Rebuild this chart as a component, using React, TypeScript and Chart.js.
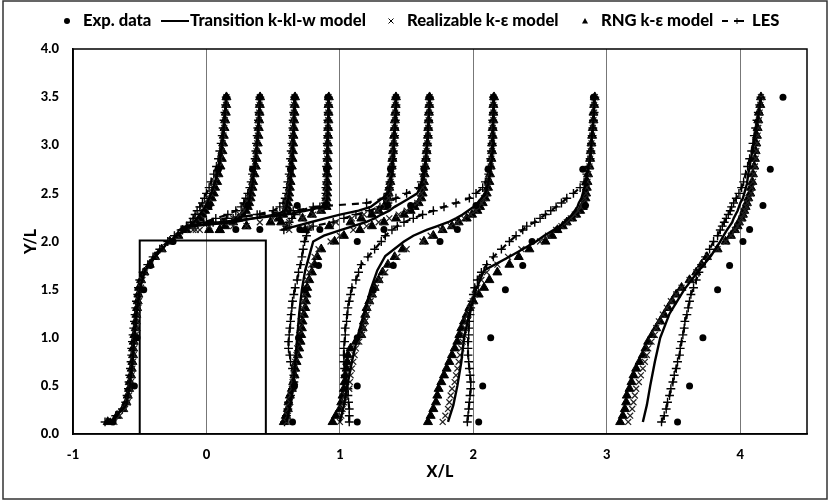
import { useEffect, useRef } from "react"
import { Chart, registerables, type Plugin } from "chart.js"

Chart.register(...registerables)

const FONT = "Lato, 'Noto Sans', sans-serif"

// y levels the profiles were read at
const lowerLevels = [0.125, 0.19, 0.26, 0.33, 0.4, 0.47, 0.54, 0.61, 0.68, 0.75, 0.82, 0.89, 0.96, 1.03, 1.1, 1.17, 1.24, 1.31, 1.38, 1.45, 1.52, 1.6, 1.68, 1.76, 1.84, 1.92, 2.0]
const upperLevels = [2.06, 2.12, 2.16, 2.2, 2.24, 2.28, 2.32, 2.36, 2.4, 2.45, 2.5, 2.56, 2.62, 2.7, 2.78, 2.86, 2.94, 3.02, 3.1, 3.18, 3.26, 3.34, 3.42, 3.5]
const wakeLevels = [...lowerLevels, ...upperLevels]
const roofLevels = upperLevels.slice(1)
const lineLevels = [0.125, 0.3, 0.5, 0.75, 1, 1.25, 1.5, 1.7, 1.85, 2, 2.06, 2.12, 2.16, 2.2, 2.24, 2.28, 2.32, 2.36, 2.4, 2.45, 2.5, 2.6, 2.7, 2.86, 3.02, 3.26, 3.5]
const roofLineLevels = lineLevels.slice(11)
const expLevels = [0.125, 0.5, 1, 1.5, 1.75, 2, 2.125, 2.375, 2.75, 3.5]
const expRoofLevels = [2.125, 2.375, 2.75, 3.5]

// building outline
const buildingX = [-0.5, -0.5, 0.445, 0.445]
const buildingY = [0, 2.01, 2.01, 0]

// Exp. data
const expA = [-0.7, -0.54, -0.52, -0.47, -0.42, -0.25, -0.17, 0.02, 0.09, 0.148]
const expB = [0.22, 0.31, 0.345, 0.4]
const expC = [0.4, 0.68, 0.63, 0.66]
const expD = [0.7, 0.89, 0.9, 0.91]
const expE = [0.85, 1.36, 1.38, 1.42]
const expF = [0.645, 0.66, 0.69, 0.74, 0.84, 1.13, 1.33, 1.53, 1.63, 1.67]
const expG = [1.13, 1.13, 1.13, 1.25, 1.4, 1.75, 1.88, 2.02, 2.11, 2.15]
const expH = [2.04, 2.07, 2.13, 2.24, 2.37, 2.44, 2.63, 2.84, 2.82, 2.9]
const expI = [3.53, 3.62, 3.72, 3.83, 3.92, 4.02, 4.07, 4.17, 4.225, 4.32]

// Transition k-kl-w
const transitionA = [-0.72, -0.6, -0.575, -0.555, -0.54, -0.525, -0.5, -0.46, -0.38, -0.28, -0.225, -0.165, -0.125, -0.095, -0.07, -0.05, -0.03, -0.01, 0.005, 0.02, 0.035, 0.06, 0.08, 0.1, 0.118, 0.135, 0.148]
const transitionB = [-0.2, -0.12, 0.17, 0.25, 0.28, 0.3, 0.31, 0.315, 0.325, 0.33, 0.345, 0.355, 0.37, 0.38, 0.393, 0.402]
const transitionC = [-0.2, -0.12, 0.2, 0.35, 0.52, 0.59, 0.6, 0.605, 0.615, 0.62, 0.63, 0.635, 0.645, 0.652, 0.658, 0.664]
const transitionD = [-0.2, -0.13, 0.1, 0.35, 0.6, 0.75, 0.87, 0.9, 0.905, 0.905, 0.905, 0.905, 0.908, 0.91, 0.913, 0.915]
const transitionE = [0.56, 0.67, 0.78, 0.89, 1.0, 1.14, 1.23, 1.27, 1.32, 1.36, 1.38, 1.39, 1.4, 1.405, 1.415, 1.42]
const transitionF = [0.6, 0.63, 0.65, 0.665, 0.68, 0.695, 0.715, 0.74, 0.77, 0.8, 0.88, 1.01, 1.1, 1.19, 1.26, 1.31, 1.37, 1.41, 1.46, 1.52, 1.58, 1.61, 1.63, 1.645, 1.655, 1.665, 1.675]
const transitionG = [1.0, 1.03, 1.055, 1.09, 1.13, 1.18, 1.23, 1.28, 1.34, 1.48, 1.55, 1.65, 1.73, 1.81, 1.87, 1.92, 1.96, 2.0, 2.03, 2.06, 2.09, 2.11, 2.125, 2.14, 2.15, 2.15, 2.155]
const transitionH = [1.81, 1.85, 1.88, 1.91, 1.93, 1.97, 2.02, 2.08, 2.28, 2.47, 2.53, 2.6, 2.65, 2.68, 2.71, 2.74, 2.76, 2.78, 2.79, 2.81, 2.82, 2.84, 2.85, 2.875, 2.885, 2.9, 2.91]
const transitionI = [3.27, 3.3, 3.325, 3.36, 3.4, 3.47, 3.58, 3.69, 3.78, 3.85, 3.875, 3.9, 3.92, 3.94, 3.95, 3.965, 3.98, 3.99, 4.0, 4.02, 4.03, 4.05, 4.06, 4.08, 4.1, 4.13, 4.155]

// Realizable k-e
const realizableA = [-0.69, -0.65, -0.61, -0.59, -0.58, -0.57, -0.565, -0.56, -0.555, -0.55, -0.545, -0.54, -0.535, -0.53, -0.525, -0.52, -0.515, -0.51, -0.505, -0.5, -0.49, -0.48, -0.46, -0.42, -0.38, -0.33, -0.27, -0.22, -0.16, -0.12, -0.09, -0.07, -0.05, -0.03, -0.01, 0.005, 0.02, 0.035, 0.05, 0.065, 0.08, 0.095, 0.105, 0.115, 0.122, 0.128, 0.133, 0.138, 0.142, 0.146, 0.15]
const realizableB = [-0.1, 0.02, 0.13, 0.2, 0.25, 0.285, 0.305, 0.315, 0.325, 0.33, 0.34, 0.345, 0.355, 0.365, 0.37, 0.375, 0.38, 0.385, 0.39, 0.392, 0.395, 0.398, 0.4]
const realizableC = [-0.08, 0.2, 0.4, 0.5, 0.55, 0.585, 0.595, 0.6, 0.61, 0.615, 0.62, 0.625, 0.63, 0.635, 0.64, 0.643, 0.645, 0.648, 0.65, 0.652, 0.655, 0.657, 0.66]
const realizableD = [-0.05, 0.3, 0.62, 0.72, 0.8, 0.85, 0.89, 0.895, 0.9, 0.9, 0.9, 0.902, 0.903, 0.905, 0.905, 0.906, 0.908, 0.91, 0.91, 0.912, 0.913, 0.915, 0.915]
const realizableE = [0.62, 0.78, 0.97, 1.09, 1.18, 1.28, 1.34, 1.355, 1.365, 1.37, 1.375, 1.38, 1.385, 1.39, 1.395, 1.4, 1.405, 1.408, 1.41, 1.413, 1.415, 1.418, 1.42]
const realizableF = [0.6, 0.61, 0.615, 0.625, 0.63, 0.64, 0.645, 0.655, 0.66, 0.665, 0.675, 0.68, 0.69, 0.695, 0.7, 0.705, 0.715, 0.72, 0.73, 0.735, 0.745, 0.755, 0.77, 0.785, 0.81, 0.84, 0.93, 1.0, 1.1, 1.2, 1.29, 1.37, 1.44, 1.5, 1.54, 1.58, 1.6, 1.61, 1.62, 1.628, 1.635, 1.64, 1.645, 1.65, 1.655, 1.66, 1.662, 1.665, 1.668, 1.67, 1.672]
const realizableG = [1.0, 1.01, 1.02, 1.03, 1.04, 1.07, 1.075, 1.08, 1.09, 1.1, 1.11, 1.12, 1.145, 1.165, 1.18, 1.19, 1.2, 1.21, 1.23, 1.25, 1.27, 1.3, 1.34, 1.38, 1.43, 1.5, 1.62, 1.68, 1.76, 1.83, 1.88, 1.93, 1.98, 2.02, 2.04, 2.06, 2.08, 2.095, 2.105, 2.115, 2.12, 2.13, 2.135, 2.14, 2.14, 2.145, 2.145, 2.15, 2.15, 2.15, 2.15]
const realizableH = [1.77, 1.79, 1.81, 1.82, 1.83, 1.84, 1.86, 1.87, 1.88, 1.89, 1.9, 1.91, 1.92, 1.93, 1.94, 1.95, 1.96, 1.975, 1.995, 2.01, 2.03, 2.06, 2.1, 2.18, 2.26, 2.36, 2.5, 2.56, 2.62, 2.66, 2.7, 2.73, 2.76, 2.785, 2.805, 2.82, 2.835, 2.845, 2.85, 2.855, 2.86, 2.87, 2.875, 2.88, 2.885, 2.89, 2.895, 2.9, 2.905, 2.905, 2.91]
const realizableI = [3.16, 3.175, 3.19, 3.2, 3.21, 3.22, 3.24, 3.255, 3.27, 3.285, 3.3, 3.31, 3.335, 3.36, 3.37, 3.39, 3.42, 3.45, 3.48, 3.52, 3.56, 3.62, 3.67, 3.72, 3.76, 3.83, 3.89, 3.93, 3.96, 3.98, 4.0, 4.01, 4.025, 4.035, 4.045, 4.055, 4.065, 4.08, 4.085, 4.095, 4.1, 4.11, 4.115, 4.12, 4.125, 4.13, 4.135, 4.14, 4.145, 4.15, 4.155]

// RNG k-e
const rngA = [-0.74, -0.67, -0.625, -0.6, -0.59, -0.58, -0.575, -0.565, -0.56, -0.555, -0.55, -0.55, -0.545, -0.54, -0.53, -0.53, -0.525, -0.52, -0.515, -0.51, -0.505, -0.49, -0.465, -0.425, -0.385, -0.335, -0.275, -0.21, -0.15, -0.11, -0.075, -0.05, -0.03, -0.01, 0.01, 0.025, 0.04, 0.055, 0.065, 0.08, 0.09, 0.105, 0.115, 0.12, 0.125, 0.13, 0.135, 0.14, 0.145, 0.148, 0.15]
const rngB = [0.02, 0.14, 0.2, 0.24, 0.27, 0.295, 0.31, 0.32, 0.33, 0.335, 0.345, 0.35, 0.36, 0.37, 0.375, 0.38, 0.385, 0.39, 0.392, 0.395, 0.398, 0.4, 0.402]
const rngC = [0.1, 0.3, 0.48, 0.54, 0.575, 0.6, 0.605, 0.61, 0.615, 0.62, 0.625, 0.63, 0.635, 0.64, 0.645, 0.648, 0.65, 0.652, 0.655, 0.657, 0.66, 0.662, 0.664]
const rngD = [0.1, 0.3, 0.56, 0.72, 0.79, 0.86, 0.9, 0.9, 0.9, 0.905, 0.905, 0.905, 0.905, 0.908, 0.908, 0.91, 0.91, 0.912, 0.912, 0.914, 0.915, 0.915, 0.917]
const rngE = [0.74, 0.92, 1.08, 1.16, 1.24, 1.29, 1.33, 1.35, 1.36, 1.365, 1.37, 1.378, 1.383, 1.388, 1.393, 1.398, 1.403, 1.406, 1.41, 1.412, 1.415, 1.418, 1.42]
const rngF = [0.58, 0.595, 0.61, 0.615, 0.625, 0.64, 0.65, 0.66, 0.665, 0.675, 0.685, 0.695, 0.705, 0.71, 0.715, 0.72, 0.73, 0.74, 0.745, 0.75, 0.755, 0.77, 0.79, 0.81, 0.83, 0.86, 0.96, 1.03, 1.15, 1.24, 1.33, 1.42, 1.48, 1.53, 1.56, 1.59, 1.61, 1.62, 1.625, 1.63, 1.635, 1.64, 1.645, 1.65, 1.655, 1.66, 1.662, 1.665, 1.667, 1.67, 1.672]
const rngG = [0.945, 0.97, 1.0, 1.01, 1.02, 1.03, 1.035, 1.04, 1.05, 1.055, 1.06, 1.08, 1.12, 1.16, 1.17, 1.18, 1.19, 1.2, 1.22, 1.24, 1.26, 1.29, 1.32, 1.36, 1.41, 1.47, 1.63, 1.7, 1.77, 1.84, 1.89, 1.95, 1.99, 2.03, 2.05, 2.07, 2.09, 2.1, 2.11, 2.12, 2.125, 2.13, 2.135, 2.14, 2.14, 2.145, 2.145, 2.15, 2.15, 2.15, 2.155]
const rngH = [1.66, 1.68, 1.7, 1.72, 1.73, 1.74, 1.76, 1.78, 1.8, 1.82, 1.84, 1.86, 1.88, 1.895, 1.91, 1.93, 1.95, 1.97, 2.0, 2.04, 2.08, 2.12, 2.18, 2.27, 2.34, 2.42, 2.54, 2.59, 2.63, 2.67, 2.7, 2.74, 2.77, 2.8, 2.82, 2.83, 2.84, 2.845, 2.85, 2.855, 2.86, 2.87, 2.875, 2.88, 2.885, 2.89, 2.895, 2.9, 2.9, 2.905, 2.91]
const rngI = [3.1, 3.12, 3.135, 3.145, 3.15, 3.17, 3.185, 3.2, 3.22, 3.245, 3.27, 3.29, 3.31, 3.34, 3.37, 3.4, 3.43, 3.46, 3.49, 3.52, 3.56, 3.62, 3.67, 3.71, 3.75, 3.83, 3.89, 3.93, 3.96, 3.98, 3.99, 4.01, 4.02, 4.03, 4.04, 4.05, 4.06, 4.075, 4.08, 4.09, 4.095, 4.105, 4.11, 4.115, 4.12, 4.125, 4.13, 4.135, 4.14, 4.15, 4.155]

// LES
const lesA = [-0.76, -0.68, -0.63, -0.605, -0.595, -0.585, -0.58, -0.575, -0.57, -0.565, -0.56, -0.56, -0.555, -0.55, -0.545, -0.54, -0.535, -0.53, -0.525, -0.515, -0.51, -0.5, -0.475, -0.44, -0.4, -0.35, -0.29, -0.24, -0.19, -0.15, -0.12, -0.1, -0.085, -0.07, -0.05, -0.03, -0.015, 0, 0.02, 0.035, 0.055, 0.075, 0.09, 0.1, 0.11, 0.118, 0.125, 0.132, 0.138, 0.143, 0.148]
const lesB = [-0.18, -0.1, -0.02, 0.07, 0.16, 0.22, 0.26, 0.28, 0.295, 0.31, 0.325, 0.335, 0.345, 0.355, 0.365, 0.37, 0.375, 0.38, 0.385, 0.39, 0.394, 0.397, 0.4]
const lesC = [-0.18, -0.1, 0.05, 0.2, 0.38, 0.5, 0.55, 0.575, 0.59, 0.6, 0.605, 0.61, 0.62, 0.625, 0.63, 0.635, 0.64, 0.645, 0.648, 0.65, 0.653, 0.656, 0.66]
const lesD = [-0.18, -0.1, 0.0, 0.15, 0.4, 0.65, 0.85, 0.89, 0.895, 0.895, 0.895, 0.9, 0.9, 0.9, 0.903, 0.905, 0.905, 0.908, 0.91, 0.91, 0.912, 0.914, 0.915]
const lesE = [0.58, 0.6, 0.62, 0.64, 0.66, 0.7, 0.8, 1.2, 1.33, 1.36, 1.37, 1.375, 1.385, 1.39, 1.395, 1.4, 1.405, 1.41, 1.41, 1.415, 1.418, 1.42, 1.42]
const lesF = [0.585, 0.6, 0.61, 0.615, 0.63, 0.645, 0.655, 0.655, 0.645, 0.63, 0.625, 0.615, 0.615, 0.62, 0.625, 0.63, 0.635, 0.64, 0.645, 0.655, 0.665, 0.68, 0.69, 0.705, 0.715, 0.725, 0.735, 0.75, 0.76, 0.8, 0.95, 1.03, 1.12, 1.22, 1.3, 1.36, 1.42, 1.5, 1.59, 1.61, 1.625, 1.635, 1.645, 1.65, 1.655, 1.66, 1.662, 1.665, 1.668, 1.67, 1.672]
const lesG = [1.07, 1.07, 1.07, 1.065, 1.06, 1.06, 1.05, 1.04, 1.035, 1.03, 1.03, 1.03, 1.035, 1.04, 1.04, 1.05, 1.055, 1.06, 1.07, 1.08, 1.09, 1.12, 1.14, 1.16, 1.21, 1.26, 1.31, 1.34, 1.39, 1.43, 1.48, 1.55, 1.62, 1.7, 1.78, 1.87, 1.97, 2.02, 2.07, 2.09, 2.115, 2.125, 2.13, 2.135, 2.14, 2.14, 2.145, 2.145, 2.15, 2.15, 2.15]
const lesH = [1.955, 1.96, 1.965, 1.97, 1.975, 1.98, 1.98, 1.975, 1.97, 1.965, 1.96, 1.96, 1.96, 1.965, 1.965, 1.97, 1.975, 1.98, 1.99, 2.0, 2.01, 2.03, 2.06, 2.1, 2.15, 2.21, 2.27, 2.32, 2.37, 2.4, 2.46, 2.5, 2.54, 2.58, 2.62, 2.66, 2.7, 2.75, 2.8, 2.83, 2.85, 2.865, 2.875, 2.88, 2.885, 2.89, 2.895, 2.9, 2.905, 2.905, 2.91]
const lesI = [3.41, 3.43, 3.445, 3.455, 3.47, 3.48, 3.495, 3.505, 3.52, 3.53, 3.545, 3.55, 3.56, 3.57, 3.58, 3.585, 3.6, 3.61, 3.62, 3.63, 3.65, 3.67, 3.69, 3.71, 3.74, 3.77, 3.8, 3.83, 3.85, 3.865, 3.88, 3.895, 3.91, 3.925, 3.935, 3.95, 3.97, 3.99, 4.01, 4.025, 4.04, 4.055, 4.07, 4.085, 4.095, 4.105, 4.115, 4.125, 4.135, 4.145, 4.155]

const toPoints = (xs: number[], ys: number[]) => xs.map((x, i) => ({ x, y: ys[i] }))

const markerStyle = (pointStyle: string, radius: number, width: number, color = "#000") => ({
  showLine: false,
  pointStyle,
  pointRadius: radius,
  pointBackgroundColor: color,
  pointBorderColor: color,
  pointBorderWidth: width,
})

const buildDatasets = () => {
  const sets: any[] = []
  const wake = (list: number[][], style: any) =>
    list.forEach((xs) => sets.push({ data: toPoints(xs, wakeLevels), ...style }))
  const roof = (list: number[][], style: any) =>
    list.forEach((xs) => sets.push({ data: toPoints(xs, roofLevels), ...style }))

  const exp = markerStyle("circle", 3.5, 0)
  ;[expA, expF, expG, expH, expI].forEach((xs) => sets.push({ data: toPoints(xs, expLevels), ...exp }))
  ;[expB, expC, expD, expE].forEach((xs) => sets.push({ data: toPoints(xs, expRoofLevels), ...exp }))

  const solid = { showLine: true, borderColor: "#000", borderWidth: 2.4, pointRadius: 0 }
  ;[transitionA, transitionF, transitionG, transitionH, transitionI].forEach((xs) =>
    sets.push({ data: toPoints(xs, lineLevels), ...solid })
  )
  ;[transitionB, transitionC, transitionD, transitionE].forEach((xs) =>
    sets.push({ data: toPoints(xs, roofLineLevels), ...solid })
  )

  const cross = markerStyle("crossRot", 4.2, 1.2, "#222")
  wake([realizableA, realizableF, realizableG, realizableH, realizableI], cross)
  roof([realizableB, realizableC, realizableD, realizableE], cross)

  const tri = markerStyle("triangle", 5.2, 1)
  wake([rngA, rngF, rngG, rngH, rngI], tri)
  roof([rngB, rngC, rngD, rngE], tri)

  const les = {
    ...markerStyle("cross", 4.4, 1.4),
    showLine: true,
    borderColor: "#000",
    borderWidth: 2.2,
    borderDash: [7, 6],
  }
  wake([lesA, lesF, lesG, lesH, lesI], les)
  roof([lesB, lesC, lesD, lesE], les)

  sets.push({ data: toPoints(buildingX, buildingY), showLine: true, borderColor: "#000", borderWidth: 2, pointRadius: 0 })
  return sets
}

// legend is spaced unevenly in the original, so it is drawn by hand
const legendEntries = [
  { label: "Exp. data", mark: "circle", markAt: 67, textAt: 83 },
  { label: "Transition k-kl-w model", mark: "line", markAt: 175, textAt: 190 },
  { label: "Realizable k-\u03b5 model", mark: "cross", markAt: 391, textAt: 407 },
  { label: "RNG k-\u03b5 model", mark: "triangle", markAt: 585, textAt: 601 },
  { label: "LES", mark: "les", markAt: 733, textAt: 752 },
]

const framePlugin: Plugin = {
  id: "frame",
  afterDraw(chart) {
    const { ctx, chartArea: a } = chart
    ctx.save()
    ctx.strokeStyle = "#000"
    ctx.lineWidth = 1.5
    ctx.strokeRect(a.left, a.top, a.right - a.left, a.bottom - a.top)
    ctx.strokeStyle = "#333"
    ctx.lineWidth = 1.5
    ctx.strokeRect(3, 1, 824, 498)

    const y = 21
    ctx.fillStyle = "#000"
    ctx.strokeStyle = "#000"
    ctx.font = `900 16.6px ${FONT}`
    ctx.textBaseline = "middle"
    legendEntries.forEach((e) => {
      ctx.fillText(e.label, e.textAt, y)
      const m = e.markAt
      if (e.mark === "circle") {
        ctx.beginPath()
        ctx.arc(m, y, 3, 0, Math.PI * 2)
        ctx.fill()
      } else if (e.mark === "line") {
        ctx.lineWidth = 2
        ctx.beginPath()
        ctx.moveTo(m - 14, y)
        ctx.lineTo(m + 14, y)
        ctx.stroke()
      } else if (e.mark === "cross") {
        ctx.lineWidth = 1
        ctx.beginPath()
        ctx.moveTo(m - 2.5, y - 2.5)
        ctx.lineTo(m + 2.5, y + 2.5)
        ctx.moveTo(m + 2.5, y - 2.5)
        ctx.lineTo(m - 2.5, y + 2.5)
        ctx.stroke()
      } else if (e.mark === "triangle") {
        ctx.beginPath()
        ctx.moveTo(m, y - 3)
        ctx.lineTo(m + 3, y + 2.5)
        ctx.lineTo(m - 3, y + 2.5)
        ctx.fill()
      } else {
        ctx.lineWidth = 2
        ctx.beginPath()
        ctx.moveTo(m - 11, y)
        ctx.lineTo(m - 5, y)
        ctx.moveTo(m + 1, y)
        ctx.lineTo(m + 11, y)
        ctx.stroke()
        ctx.lineWidth = 1
        ctx.beginPath()
        ctx.moveTo(m + 4, y - 3)
        ctx.lineTo(m + 4, y + 3)
        ctx.stroke()
      }
    })
    ctx.restore()
  },
}

export default function App() {
  const chartRef = useRef<HTMLCanvasElement>(null)

  useEffect(() => {
    if (!chartRef.current) return
    const chart = new Chart(chartRef.current, {
      type: "scatter",
      data: { datasets: buildDatasets() },
      plugins: [framePlugin],
      options: {
        responsive: false,
        animation: false,
        layout: { padding: { left: 17, right: 23, top: 49, bottom: 16 } },
        plugins: { legend: { display: false }, tooltip: { enabled: false } },
        scales: {
          x: {
            type: "linear",
            min: -1,
            max: 4.5,
            afterFit: (s: any) => {
              s.height = 51
            },
            ticks: {
              stepSize: 1,
              includeBounds: false,
              padding: 13,
              color: "#000",
              font: { family: FONT, size: 13, weight: "900" },
            },
            grid: { color: "#777", lineWidth: 1, drawTicks: false },
            border: { color: "#000", width: 1.5 },
            title: { display: true, text: "X/L", color: "#000", font: { family: FONT, size: 16, weight: "900" } },
          },
          y: {
            type: "linear",
            min: 0,
            max: 4,
            afterFit: (s: any) => {
              s.width = 56
            },
            ticks: {
              stepSize: 0.5,
              padding: 14,
              color: "#000",
              font: { family: FONT, size: 13, weight: "900" },
              callback: (v: any) => Number(v).toFixed(1),
            },
            grid: { display: false, drawTicks: false },
            border: { color: "#000", width: 1.5 },
            title: { display: true, text: "Y/L", color: "#000", font: { family: FONT, size: 16, weight: "900" } },
          },
        },
      },
    })
    return () => chart.destroy()
  }, [])

  return (
    <div style={{ position: "fixed", left: 0, top: 0, width: 830, height: 501, background: "#fff" }}>
      <canvas ref={chartRef} width={830} height={501} style={{ display: "block" }} />
    </div>
  )
}
